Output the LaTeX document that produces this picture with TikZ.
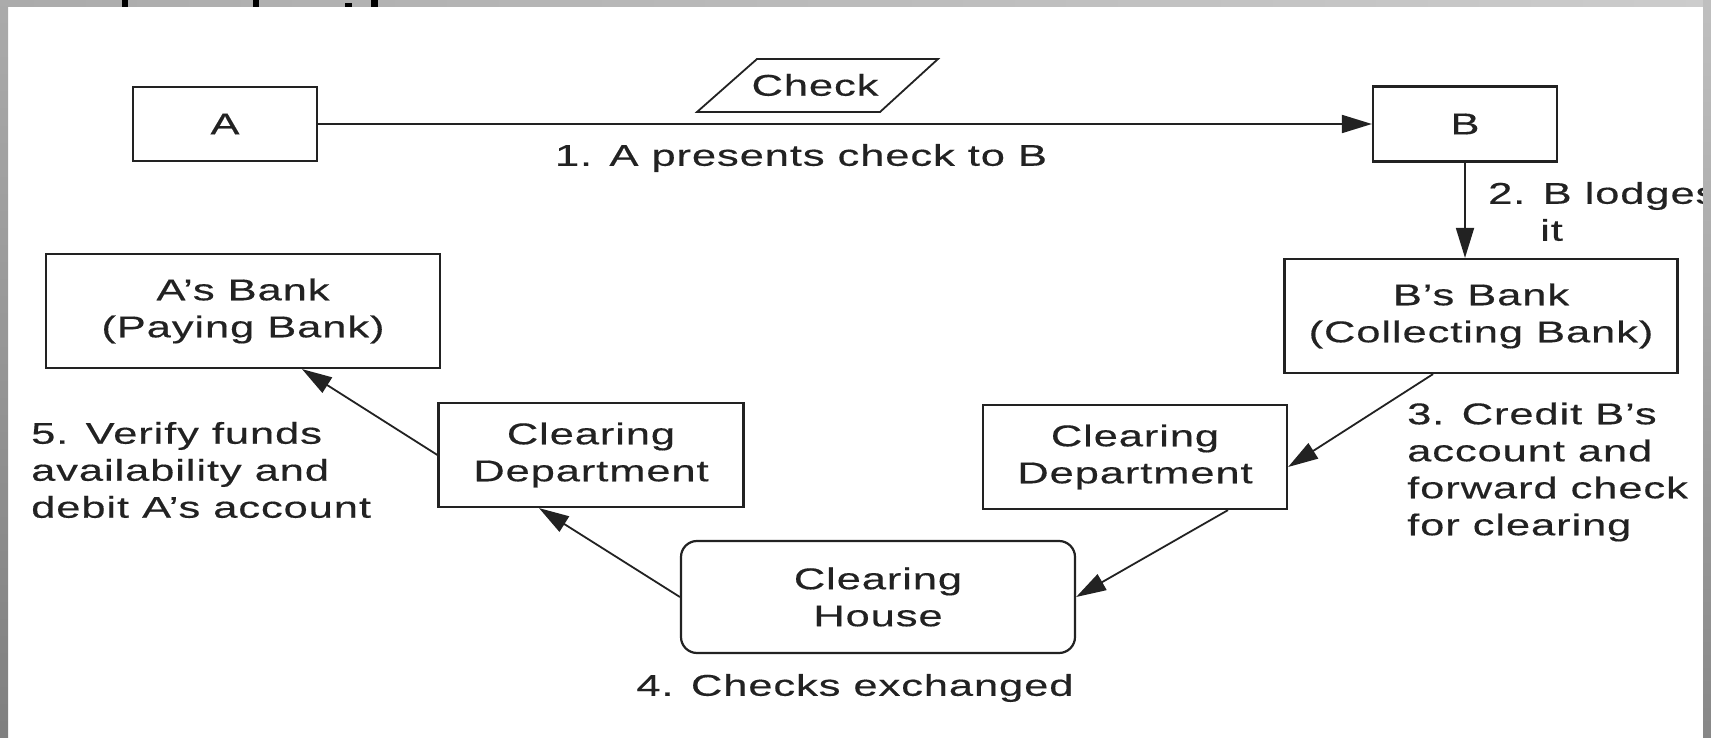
\documentclass[tikz,border=0pt]{standalone}
\usepackage{fontspec}
\setmainfont{Liberation Sans}[FakeStretch=1.45, LetterSpace=3, FakeBold=0.4]
\usetikzlibrary{arrows.meta,calc}
\definecolor{ink}{HTML}{222222}
\begin{document}
\begin{tikzpicture}[x=1pt,y=-1pt,
  txt/.style={font=\fontsize{30}{37}\selectfont, text=ink, inner sep=0pt},
  boxnode/.style={txt, draw=ink, line width=2.2pt, align=center},
  lbl/.style={txt, align=left},
  conn/.style={draw=ink, line width=1.8pt, -{Triangle[length=30pt,width=18pt]}}]
\useasboundingbox (0,0) rectangle (1711,738);
\fill[white] (0,0) rectangle (1711,738);
% nodes
\node[boxnode, minimum width=184pt, minimum height=74pt] (A) at (225,124) {A};
\node[boxnode, minimum width=184pt, minimum height=75pt] (B) at (1465,124) {B};
\node[txt] (check) at (815,85) {Check};
\draw[ink, line width=1.8pt] (757,59) -- (938,59) -- (880,112) -- (697,112) -- cycle;
\node[txt] (l1) at (801,158) {1. A presents check to B};
\node[lbl, anchor=west] (l2) at (1488,196) {2. B lodges};
\node[lbl, anchor=west] (l2b) at (1540,230) {it};
\node[boxnode, minimum width=394pt, minimum height=114pt] (ab) at (243,311) {A’s Bank\\(Paying Bank)};
\node[boxnode, minimum width=393pt, minimum height=114pt] (bb) at (1481,316) {B’s Bank\\(Collecting Bank)};
\node[boxnode, minimum width=305pt, minimum height=104pt] (lcd) at (591,455) {Clearing\\Department};
\node[boxnode, minimum width=304pt, minimum height=104pt] (rcd) at (1135,457) {Clearing\\Department};
\node[boxnode, rounded corners=16pt, minimum width=394pt, minimum height=112pt] (ch) at (878,597) {Clearing\\House};
\node[lbl, anchor=west] (l5) at (31,470) {5. Verify funds\\availability and\\debit A’s account};
\node[lbl, anchor=west] (l3) at (1407,472) {3. Credit B’s\\account and\\forward check\\for clearing};
\node[txt] (l4) at (855,688) {4. Checks exchanged};
% connectors
\draw[conn] (A.east) -- (B.west);
\draw[conn] (B.south) -- (B.south |- bb.north);
\draw[conn] ([xshift=-48pt]bb.south) -- ([yshift=-10pt]rcd.east);
\draw[conn] ([xshift=93pt]rcd.south) -- (ch.east);
\draw[conn] (ch.west) -- ([xshift=-52pt]lcd.south);
\draw[conn] (lcd.west) -- ([xshift=59pt]ab.south);
% frame
\shade[left color=black!33, right color=black!20] (0,0) rectangle (1711,7);
\shade[top color=black!33, bottom color=black!50] (0,0) rectangle (8,738);
\shade[top color=black!25, bottom color=black!47] (1703,0) rectangle (1711,738);
\fill[black] (122,0) rectangle (128,7);
\fill[black] (253,0) rectangle (259,7);
\fill[black] (345,3) rectangle (352,7);
\fill[black] (371,0) rectangle (378,7);
\end{tikzpicture}
\end{document}
